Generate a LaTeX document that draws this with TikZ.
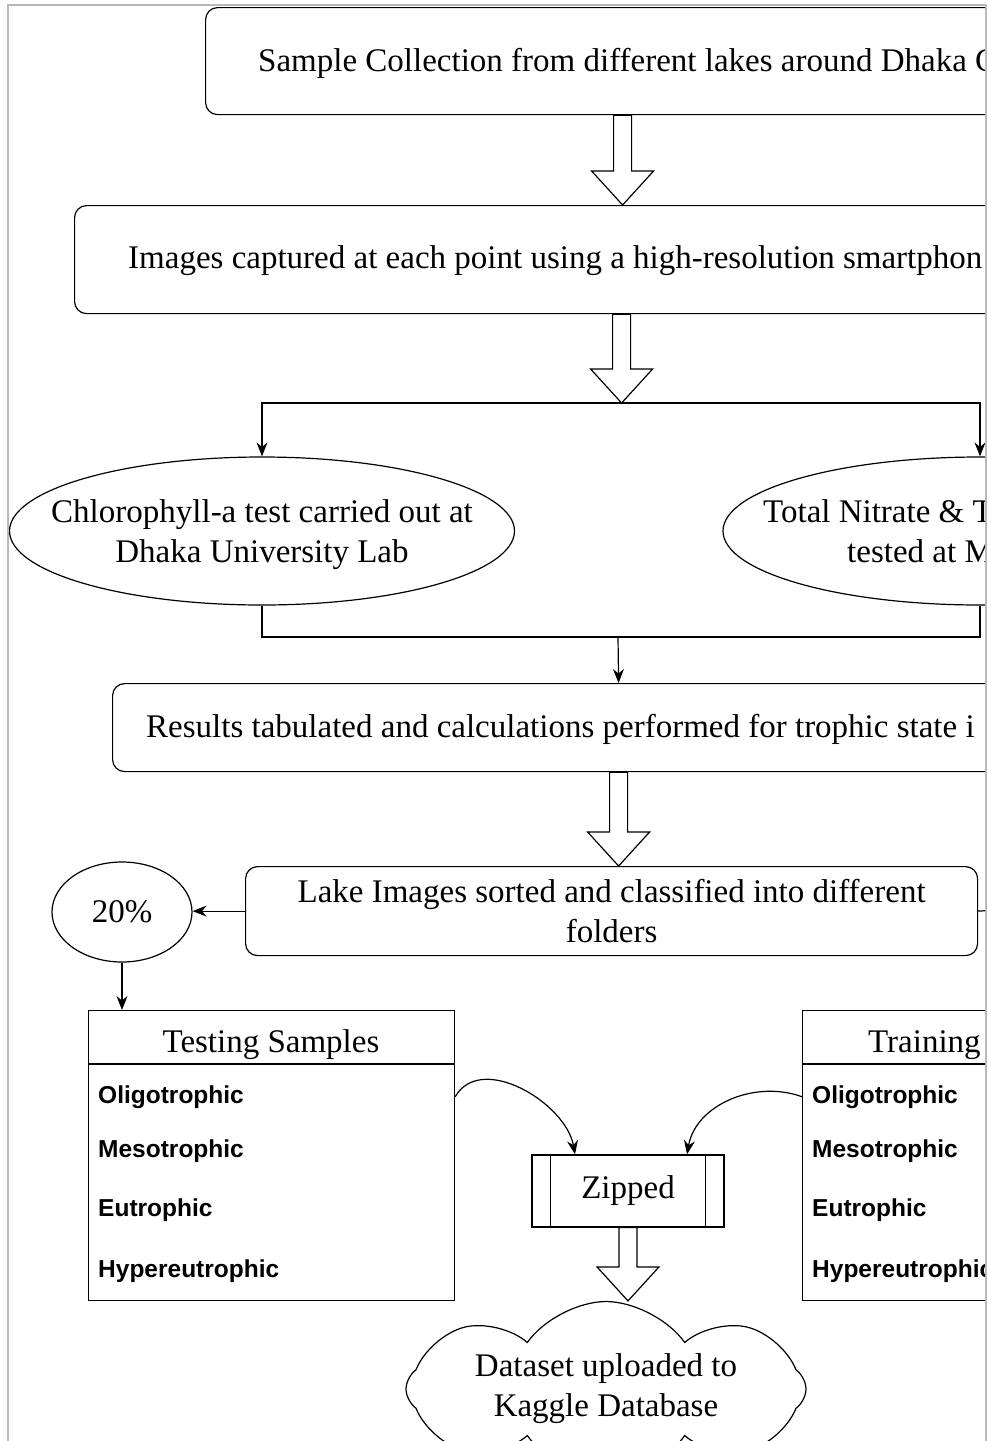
\documentclass[tikz,border=0pt]{standalone}
\usepackage{fontspec}
\setmainfont{Liberation Serif}
\setsansfont{Liberation Sans}
\usetikzlibrary{shapes.geometric,shapes.symbols,arrows.meta,calc}

\tikzset{
  conn/.style={line width=1.2pt},
  arr/.style={conn, -{Stealth[length=14pt,width=11pt]}},
  stepbox/.style={draw, conn, rounded corners=12pt, anchor=north west},
  oval/.style={draw, conn, ellipse},
  txt/.style={font=\fontsize{33}{40}\selectfont, inner sep=0pt, align=center},
  cls/.style={font=\sffamily\bfseries\fontsize{24.5}{28}\selectfont, anchor=base west, inner sep=0pt},
  tbl/.style={draw, conn, anchor=north west, minimum width=366pt, minimum height=290pt},
}

% hollow block arrow between two points
\newcommand{\fatarrow}[2]{%
  \draw[conn, fill=white] let \p1=(#1), \p2=(#2) in
    (\x1-9pt,\y1) -- (\x1-9pt,\y2+34pt) -- (\x1-31pt,\y2+34pt) -- (\x1,\y2)
    -- (\x1+31pt,\y2+34pt) -- (\x1+9pt,\y2+34pt) -- (\x1+9pt,\y1) -- cycle;}

\begin{document}
\begin{tikzpicture}[x=1pt, y=-1pt]
    \useasboundingbox (0,0) rectangle (987,1441);
    \begin{scope}
        \clip (8,5) rectangle (985,1441);
        \node[stepbox, minimum width=834pt, minimum height=107pt] (collect) at (205,7) {};
        \node[txt, anchor=base west] (collecttxt) at (258,71) {Sample Collection from different lakes around Dhaka C};
        \node[stepbox, minimum width=1094pt, minimum height=108pt] (images) at (74,205) {};
        \node[txt, anchor=base west] (imagestxt) at (128,268) {Images captured at each point using a high-resolution smartphon};
        \fatarrow{collect.south}{images.north}
        \coordinate (split) at (621,403);
        \fatarrow{images.south}{split}

        \node[oval, minimum width=505pt, minimum height=148pt] (chloro) at (262,531) {};
        \node[txt] (chlorotxt) at (262,535) {Chlorophyll-a test carried out at\\Dhaka University Lab};
        \node[oval, minimum width=514pt, minimum height=148pt] (nitrate) at (980,531) {};
        \node[txt, anchor=base west] (nitratetxt) at (763,522) {Total Nitrate \& T};
        \node[txt, anchor=base west] (nitratetxtb) at (847,562) {tested at M};
        \draw[arr] (split) -| (chloro.north);
        \draw[arr] (split) -| (nitrate.north);

        \coordinate (join) at (618,637);
        \draw[conn] (chloro.south) |- (join) -| (nitrate.south);
        \node[stepbox, minimum width=1012pt, minimum height=88pt] (results) at (112,683) {};
        \node[txt, anchor=base west] (resultstxt) at (146,737) {Results tabulated and calculations performed for trophic state i};
        \draw[arr] (join) -- (results.north);

        \node[stepbox, txt, minimum width=732pt, minimum height=89pt] (lake) at (245,866) {Lake Images sorted and classified into different\\folders};
        \fatarrow{results.south}{lake.north}
        \node[oval, txt, minimum width=140pt, minimum height=100pt] (pct) at (122,912) {20\%};
        \draw[arr] (lake.west) -- (lake.west -| pct.east);
        \coordinate (offright) at (1000,910);
        \draw[conn] (lake.east) -- (offright);

        \node[tbl] (testing) at (88,1010) {};
        \draw[conn] ([yshift=-54pt]testing.north west) -- ([yshift=-54pt]testing.north east);
        \node[txt, anchor=base] (testinghead) at (271,1052) {Testing Samples};
        \node[cls] (testol) at (98,1103) {Oligotrophic};
        \node[cls] (testme) at (98,1157) {Mesotrophic};
        \node[cls] (testeu) at (98,1216) {Eutrophic};
        \node[cls] (testhy) at (98,1277) {Hypereutrophic};
        \draw[arr] (pct.south) -- (pct.south |- testing.north);

        \node[tbl] (training) at (802,1010) {};
        \draw[conn] ([yshift=-54pt]training.north west) -- ([yshift=-54pt]training.north east);
        \node[txt, anchor=base west] (traininghead) at (868,1052) {Training};
        \node[cls] (trainol) at (812,1103) {Oligotrophic};
        \node[cls] (trainme) at (812,1157) {Mesotrophic};
        \node[cls] (traineu) at (812,1216) {Eutrophic};
        \node[cls] (trainhy) at (812,1277) {Hypereutrophic};

        \node[draw, conn, txt, minimum width=192pt, minimum height=72pt] (zip) at (628,1191) {Zipped};
        \draw[conn] ([xshift=19pt]zip.north west) -- ([xshift=19pt]zip.south west);
        \draw[conn] ([xshift=-19pt]zip.north east) -- ([xshift=-19pt]zip.south east);
        \draw[arr] (testol -| testing.east) to[out=60, in=100] ([xshift=-53pt]zip.north);
        \draw[arr] (trainol -| training.west) to[out=160, in=80] ([xshift=59pt]zip.north);

        \node[draw, conn, txt, cloud, cloud puffs=8, cloud puff arc=110, cloud ignores aspect, minimum width=400pt, minimum height=175pt] (kaggle) at (606,1389) {Dataset uploaded to\\Kaggle Database};
        \fatarrow{zip.south}{kaggle.north}
    \end{scope}
    \draw[gray!55, line width=2pt] (8,1441) -- (8,5) -- (986,5) -- (986,1441);
\end{tikzpicture}
\end{document}
